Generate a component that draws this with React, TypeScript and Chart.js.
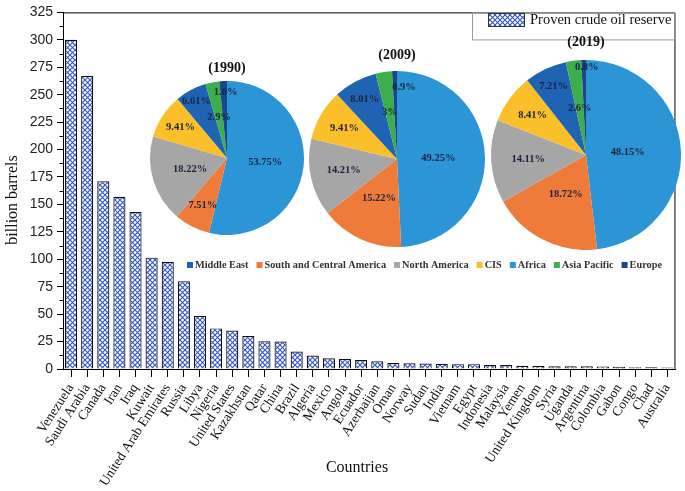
import React, { useEffect, useRef } from 'react';
import { Chart, registerables } from 'chart.js';
Chart.register(...registerables);

const countries = ['Venezuela', 'Saudi Arabia', 'Canada', 'Iran', 'Iraq', 'Kuwait', 'United Arab Emirates', 'Russia', 'Libya', 'Nigeria', 'United States', 'Kazakhstan', 'Qatar', 'China', 'Brazil', 'Algeria', 'Mexico', 'Angola', 'Ecuador', 'Azerbaijan', 'Oman', 'Norway', 'Sudan', 'India', 'Vietnam', 'Egypt', 'Indonesia', 'Malaysia', 'Yemen', 'United Kingdom', 'Syria', 'Uganda', 'Argentina', 'Colombia', 'Gabon', 'Congo', 'Chad', 'Australia'];
const reserves = [300, 267, 171, 157, 143, 101.5, 97.8, 80, 48.4, 37, 35, 30, 25.2, 25, 16, 12.2, 9.8, 9, 8.2, 7, 5.5, 5.3, 5, 4.8, 4.4, 4.4, 3.7, 3.6, 3, 2.8, 2.5, 2.5, 2.4, 2.3, 2, 1.6, 1.5, 1.4];
const seriesName = 'Proven crude oil reserve';
const yTitle = 'billion barrels';
const xTitle = 'Countries';

const regions = ['Middle East', 'South and Central America', 'North America', 'CIS', 'Africa', 'Asia Pacific', 'Europe'];
const share1990 = [53.75, 7.51, 18.22, 9.41, 6.61, 2.9, 1.6];
const share2009 = [49.25, 15.22, 14.21, 9.41, 8.01, 3, 0.9];
const share2019 = [48.15, 18.72, 14.11, 8.41, 7.21, 2.6, 0.8];

const sliceColors = ['#2b95d6', '#ef7b3b', '#a6a6a6', '#fbbf2a', '#1f64b2', '#3dae4c', '#1a4789'];
const legendColors = ['#1f64b2', '#ef7b3b', '#a6a6a6', '#fbbf2a', '#2b95d6', '#3dae4c', '#1a4789'];

function makePattern(ctx: CanvasRenderingContext2D) {
  const s = 5;
  const c = document.createElement('canvas');
  c.width = s; c.height = s;
  const g = c.getContext('2d')!;
  g.fillStyle = '#ffffff';
  g.fillRect(0, 0, s, s);
  g.strokeStyle = '#3355c0';
  g.lineWidth = 1.1;
  g.beginPath();
  g.moveTo(0, 0); g.lineTo(s, s);
  g.moveTo(s, 0); g.lineTo(0, s);
  g.stroke();
  return ctx.createPattern(c, 'repeat')!;
}

const pieLabelPlugin = {
  id: 'pieLabels',
  afterDatasetsDraw(chart: any, _args: any, opts: any) {
    const meta = chart.getDatasetMeta(0);
    const data = chart.data.datasets[0].data;
    const ctx = chart.ctx;
    ctx.save();
    ctx.font = 'bold 10.5px "Liberation Serif"';
    ctx.fillStyle = '#1b2340';
    ctx.textAlign = 'center';
    ctx.textBaseline = 'middle';
    meta.data.forEach((arc: any, i: number) => {
      const p = arc.getProps(['startAngle', 'endAngle', 'outerRadius', 'x', 'y'], true);
      const mid = (p.startAngle + p.endAngle) / 2;
      const r = p.outerRadius * opts.radii[i];
      ctx.fillText(data[i] + '%', p.x + Math.cos(mid) * r + (opts.dx ? opts.dx[i] : 0), p.y + Math.sin(mid) * r);
    });
    ctx.restore();
  },
};

export default function App() {
  const barRef = useRef<HTMLCanvasElement>(null);
  const p1 = useRef<HTMLCanvasElement>(null);
  const p2 = useRef<HTMLCanvasElement>(null);
  const p3 = useRef<HTMLCanvasElement>(null);

  useEffect(() => {
    document.body.style.margin = '0';
    const charts: Chart[] = [];
    const bctx = barRef.current!.getContext('2d')!;
    const pattern = makePattern(bctx);

    const decor = {
      id: 'decor',
      afterDraw(chart: any) {
        const ctx = chart.ctx;
        const a = chart.chartArea;
        ctx.save();
        ctx.strokeStyle = '#000';
        ctx.lineWidth = 1;
        ctx.beginPath();
        ctx.moveTo(a.left, a.top + 0.5);
        ctx.lineTo(a.right - 0.5, a.top + 0.5);
        ctx.lineTo(a.right - 0.5, a.bottom);
        ctx.stroke();
        // minor y ticks
        const ys = chart.scales.y;
        ctx.beginPath();
        for (let v = 12.5; v < 325; v += 25) {
          const y = Math.round(ys.getPixelForValue(v)) + 0.5;
          ctx.moveTo(a.left - 3.5, y);
          ctx.lineTo(a.left, y);
        }
        ctx.stroke();
        // axis titles
        ctx.fillStyle = '#111';
        ctx.font = '16px "Liberation Serif"';
        ctx.textAlign = 'center';
        ctx.textBaseline = 'middle';
        ctx.fillText(xTitle, 357, 468);
        ctx.save();
        ctx.translate(13, 200);
        ctx.rotate(-Math.PI / 2);
        ctx.fillText(yTitle, 0, 0);
        ctx.restore();
        // series legend box
        ctx.strokeStyle = '#9a9a9a';
        ctx.strokeRect(472.5, a.top + 0.5, a.right - 473, 27);
        ctx.fillStyle = pattern;
        ctx.fillRect(488, 13, 37, 14);
        ctx.strokeStyle = '#333';
        ctx.strokeRect(488.5, 13.5, 36, 13);
        ctx.fillStyle = '#111';
        ctx.font = '14.5px "Liberation Serif"';
        ctx.textAlign = 'left';
        ctx.fillText(seriesName, 530, 20);
        // pie legend
        ctx.font = 'bold 10.3px "Liberation Serif"';
        let x = 187;
        const ly = 265;
        regions.forEach((name, i) => {
          ctx.fillStyle = legendColors[i];
          ctx.fillRect(x, ly - 3, 6, 6);
          x += 8;
          ctx.fillStyle = '#333';
          ctx.fillText(name, x, ly);
          x += ctx.measureText(name).width + 8;
        });
        ctx.restore();
      },
    };

    charts.push(new Chart(barRef.current!, {
      type: 'bar',
      data: {
        labels: countries,
        datasets: [{
          label: seriesName,
          data: reserves,
          backgroundColor: pattern as any,
          borderColor: '#111',
          borderWidth: 1.2,
          barPercentage: 0.75,
          categoryPercentage: 1,
        }],
      },
      options: {
        responsive: false,
        animation: false,
        layout: { padding: { top: 7, right: 2, left: 0, bottom: 0 } },
        plugins: { legend: { display: false }, tooltip: { enabled: false } },
        scales: {
          x: {
            offset: true,
            grid: { display: true, drawOnChartArea: false, drawTicks: true, tickLength: 8, offset: false, color: '#000', tickColor: '#000' },
            border: { display: true, color: '#000', width: 1 },
            ticks: { autoSkip: false, maxRotation: 57, minRotation: 57, padding: 4, color: '#111', font: { family: 'Liberation Serif', size: 13.5 } },
            afterFit(s: any) { s.height = 122; },
          },
          y: {
            min: 0,
            max: 325,
            ticks: { stepSize: 25, padding: 4, color: '#222', font: { family: 'Liberation Sans', size: 14 } },
            grid: { drawOnChartArea: false, tickLength: 6, color: '#000', tickColor: '#000' },
            border: { display: true, color: '#000', width: 1 },
            afterFit(s: any) { s.width = 63; },
          },
        },
      } as any,
      plugins: [decor],
    }));

    const makePie = (el: HTMLCanvasElement, year: string, data: number[], padBottom: number, radii: number[], dx: number[]) => new Chart(el, {
      type: 'pie',
      data: {
        labels: regions,
        datasets: [{ data, backgroundColor: sliceColors, borderWidth: 0 }],
      },
      options: {
        responsive: false,
        animation: false,
        layout: { padding: 0 },
        plugins: {
          legend: { display: false },
          tooltip: { enabled: false },
          title: { display: true, text: year, color: '#111', font: { family: 'Liberation Serif', size: 14, weight: 'bold' }, padding: { top: 0, bottom: padBottom } },
          pieLabels: { radii, dx },
        },
      } as any,
      plugins: [pieLabelPlugin],
    });

    charts.push(makePie(p1.current!, '(1990)', share1990, 4.2, [0.5, 0.69, 0.5, 0.72, 0.84, 0.54, 0.86], [0, 0, 0, 0, 0, 0, 2]));
    charts.push(makePie(p2.current!, '(2009)', share2009, 7.2, [0.47, 0.49, 0.62, 0.69, 0.77, 0.54, 0.82], [0, 0, 0, 0, 0, 0, 9]));
    charts.push(makePie(p3.current!, '(2019)', share2019, 9.2, [0.44, 0.47, 0.61, 0.7, 0.8, 0.5, 0.92], [0, 0, 0, 0, 0, 0, 3]));

    return () => charts.forEach((c) => c.destroy());
  }, []);

  const abs = (left: number, top: number): React.CSSProperties => ({ position: 'absolute', left, top });

  return (
    <div style={{ position: 'relative', width: 685, height: 491, background: '#fff' }}>
      <canvas ref={barRef} width={685} height={491} style={abs(0, 0)} />
      <canvas ref={p1} width={158} height={175} style={abs(148, 60)} />
      <canvas ref={p2} width={180} height={200} style={abs(307, 47)} />
      <canvas ref={p3} width={194} height={216} style={abs(489, 34)} />
    </div>
  );
}
